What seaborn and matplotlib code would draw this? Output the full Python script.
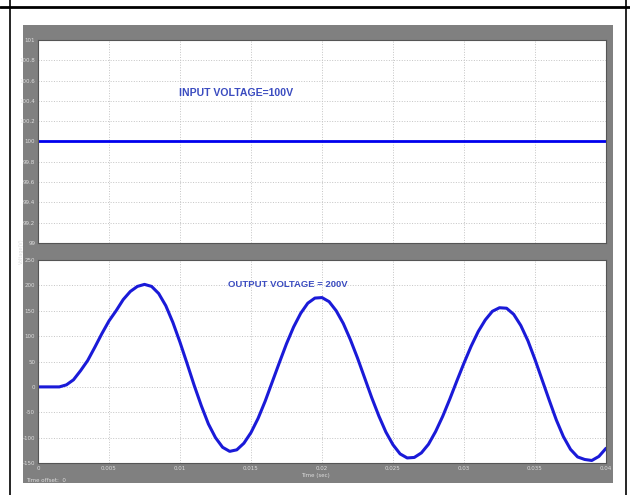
import matplotlib
matplotlib.use('Agg')
import matplotlib.pyplot as plt
import seaborn as sns
import pandas as pd
from matplotlib.lines import Line2D
from matplotlib.patches import Rectangle

# Входное напряжение (постоянное)
t_in = [0.0, 0.04]
v_in = [100.0, 100.0]

# Выходное напряжение (шаг 0.0005 с)
t_out = [i * 0.0005 for i in range(81)]
v_out = [0, 0, 0, 0, 4, 14, 32, 52, 78, 105,
         130, 150, 172, 188, 198, 202, 198, 184, 160, 127,
         88, 46, 3, -37, -73, -100, -119, -127, -124, -111,
         -90, -62, -28, 10, 48, 85, 118, 145, 165, 175,
         176, 168, 150, 125, 93, 57, 18, -21, -57, -89,
         -114, -132, -140, -139, -130, -113, -88, -58, -24, 12,
         47, 80, 109, 132, 149, 156, 155, 143, 121, 91,
         54, 14, -26, -65, -98, -123, -138, -143, -145, -137,
         -121]

x_ticks = [0, 0.005, 0.01, 0.015, 0.02, 0.025, 0.03, 0.035, 0.04]
x_labels = ['0', '0.005', '0.01', '0.015', '0.02', '0.025', '0.03', '0.035', '0.04']
top_ticks = [99, 99.2, 99.4, 99.6, 99.8, 100, 100.2, 100.4, 100.6, 100.8, 101]
top_labels = ['99', '99.2', '99.4', '99.6', '99.8', '100', '100.2', '100.4', '100.6', '100.8', '101']
bot_ticks = [-150, -100, -50, 0, 50, 100, 150, 200, 250]

df_in = pd.DataFrame({'t': t_in, 'v': v_in})
df_out = pd.DataFrame({'t': t_out, 'v': v_out})

sns.set_style('white')
plt.rcParams['font.family'] = ['DejaVu Sans']

fig = plt.figure(figsize=(6.3, 4.95), dpi=100)
fig.patch.set_facecolor('white')

# серый фон окна осциллографа
fig.patches.append(Rectangle((0.0365, 0.0242), 0.9365, 0.925, transform=fig.transFigure,
                             facecolor='#808080', edgecolor='none', zorder=-10))
# рамка таблицы
fig.lines.append(Line2D([0, 1], [0.9859, 0.9859], transform=fig.transFigure, color='black', lw=2))
fig.lines.append(Line2D([0.0159, 0.0159], [0, 1], transform=fig.transFigure, color='black', lw=1.2))
fig.lines.append(Line2D([0.9937, 0.9937], [0, 1], transform=fig.transFigure, color='black', lw=1.2))

ax1 = fig.add_axes([0.0603, 0.5091, 0.9016, 0.4101])
ax2 = fig.add_axes([0.0603, 0.0646, 0.9016, 0.4101])

sns.lineplot(data=df_in, x='t', y='v', ax=ax1, color='#0000ee', lw=2)
sns.lineplot(data=df_out, x='t', y='v', ax=ax2, color='#1a1ad8', lw=2.2)

for ax in (ax1, ax2):
    ax.set_facecolor('white')
    ax.set_xlim(0, 0.04)
    ax.set_xticks(x_ticks)
    ax.grid(True, linestyle=':', color='#c4c4c4', lw=0.7)
    ax.tick_params(direction='in', length=3, labelsize=4, colors='#dddddd', pad=2)
    for s in ax.spines.values():
        s.set_color('#555555')
        s.set_linewidth(0.8)
    ax.set_xlabel('')
    ax.set_ylabel('')

ax1.set_ylim(99, 101)
ax1.set_yticks(top_ticks)
ax1.set_yticklabels(top_labels)
ax1.set_xticklabels([])
ax1.text(0.0099, 100.48, 'INPUT VOLTAGE=100V', color='#3b4cc0', fontsize=7.6,
         fontweight='bold', family='Liberation Sans', va='center')

ax2.set_ylim(-150, 250)
ax2.set_yticks(bot_ticks)
ax2.set_yticklabels([str(v) for v in bot_ticks])
ax2.set_xticklabels(x_labels)
ax2.text(0.0134, 202, 'OUTPUT VOLTAGE = 200V', color='#3b4cc0', fontsize=6.8,
         fontweight='bold', family='Liberation Sans', va='center')

fig.text(0.5, 0.040, 'Time (sec)', ha='center', va='center', fontsize=4, color='#dddddd')
fig.text(0.042, 0.030, 'Time offset:  0', ha='left', va='center', fontsize=4, color='#dddddd')
fig.text(0.034, 0.492, 'Voltage(V)', ha='center', va='center', rotation=90,
         fontsize=3.5, color='#dddddd')

fig.savefig('out.png', dpi=100)
